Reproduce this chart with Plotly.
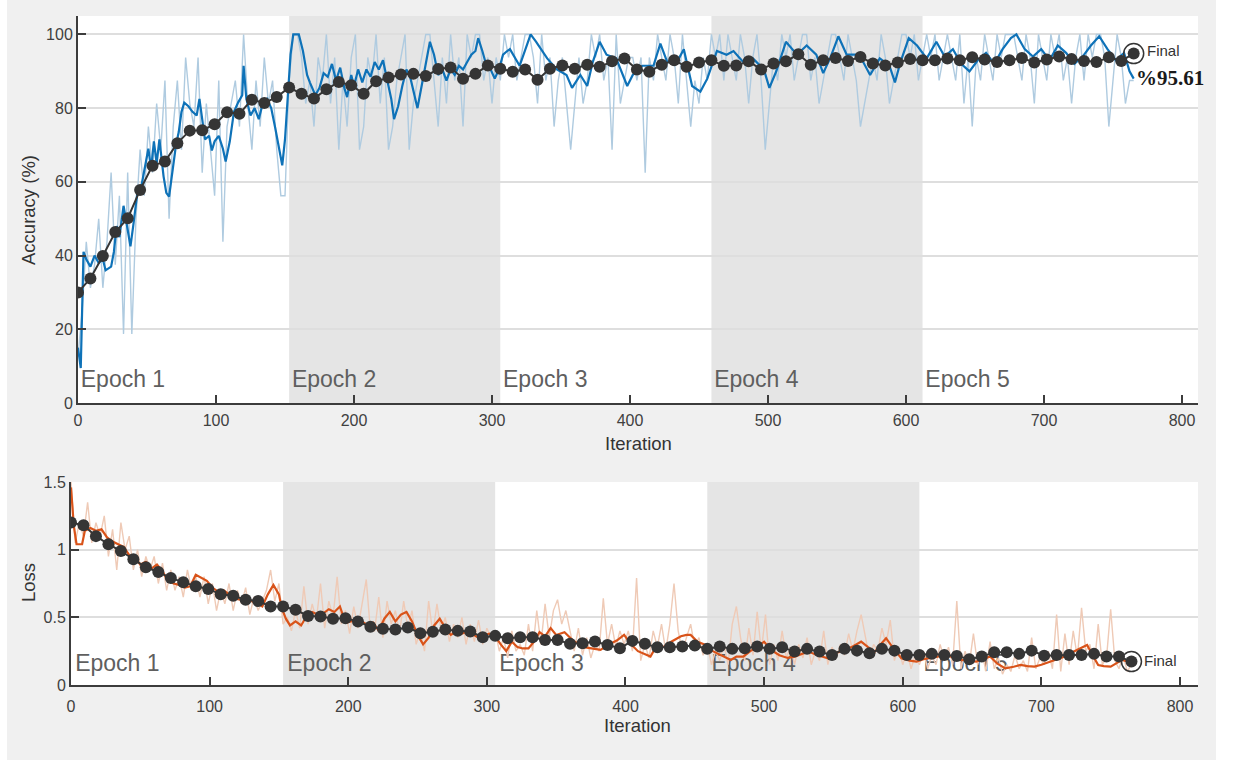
import plotly.graph_objects as go

W, H = 1237, 760

# ---------------- data ----------------
epoch_starts = [0, 153, 306, 459, 612]
epoch_labels = ["Epoch 1", "Epoch 2", "Epoch 3", "Epoch 4", "Epoch 5"]
shaded_epochs = [(153, 306), (459, 612)]

raw_step = 3  # raw mini-batch values read every 3 iterations

acc_raw = [
    # epoch 1 (0..153)
    12.5, 25, 43.75, 31.25, 37.5, 50, 31.25, 43.75, 62.5, 37.5,
    56.25, 18.75, 62.5, 18.75, 50, 68.75, 56.25, 75, 62.5, 81.25,
    68.75, 87.5, 50, 75, 87.5, 68.75, 93.75, 81.25, 75, 93.75,
    62.5, 81.25, 68.75, 56.25, 87.5, 43.75, 75, 81.25, 87.5, 75,
    100, 81.25, 68.75, 87.5, 75, 93.75, 81.25, 87.5, 68.75, 56.25,
    56.25, 87.5,
    # epoch 2 (156..303)
    100, 100, 93.75, 81.25, 87.5, 75, 93.75, 87.5, 100, 81.25,
    93.75, 68.75, 87.5, 75, 93.75, 100, 68.75, 75, 93.75, 87.5,
    100, 81.25, 93.75, 68.75, 75, 87.5, 93.75, 100, 68.75, 81.25,
    87.5, 93.75, 100, 100, 87.5, 75, 93.75, 81.25, 100, 87.5,
    93.75, 75, 100, 93.75, 100, 100, 87.5, 93.75, 81.25, 93.75,
    # epoch 3 (306..456)
    87.5, 100, 93.75, 100, 87.5, 93.75, 100, 100, 93.75, 81.25,
    100, 87.5, 93.75, 75, 87.5, 93.75, 81.25, 68.75, 81.25, 93.75,
    81.25, 87.5, 100, 93.75, 100, 87.5, 93.75, 68.75, 100, 81.25,
    87.5, 93.75, 93.75, 87.5, 93.75, 62.5, 93.75, 87.5, 100, 93.75,
    87.5, 100, 93.75, 81.25, 100, 87.5, 75, 87.5, 81.25, 93.75,
    87.5,
    # epoch 4 (459..609)
    100, 93.75, 100, 87.5, 100, 93.75, 87.5, 100, 93.75, 81.25,
    93.75, 100, 87.5, 68.75, 81.25, 93.75, 87.5, 100, 93.75, 100,
    87.5, 93.75, 100, 100, 87.5, 93.75, 81.25, 87.5, 93.75, 100,
    100, 93.75, 87.5, 100, 93.75, 87.5, 75, 81.25, 87.5, 93.75,
    87.5, 100, 93.75, 81.25, 87.5, 93.75, 100, 100, 93.75, 100,
    87.5,
    # epoch 5 (612..765)
    93.75, 100, 93.75, 100, 87.5, 93.75, 100, 93.75, 87.5, 100,
    81.25, 93.75, 75, 93.75, 87.5, 100, 93.75, 87.5, 100, 93.75,
    100, 100, 100, 93.75, 87.5, 100, 93.75, 81.25, 100, 93.75,
    87.5, 100, 93.75, 100, 87.5, 93.75, 81.25, 93.75, 100, 87.5,
    100, 93.75, 100, 100, 93.75, 75, 87.5, 100, 93.75, 81.25,
    87.5, 87.5,
]

acc_smooth_iter = [
    0, 2, 4, 6, 9, 12, 15, 18, 20, 24,
    26, 28, 30, 33, 36, 38, 40, 43, 46, 49,
    51, 53, 55, 57, 59, 62, 64, 66, 68, 71,
    73, 75, 77, 80, 83, 86, 88, 90, 92, 95,
    97, 99, 102, 105, 107, 110, 113, 116, 119, 120,
    122, 125, 128, 131, 134, 137, 140, 143, 146, 148,
    150, 152, 154, 156, 160, 163, 166, 168, 170, 172,
    175, 178, 181, 184, 187, 190, 193, 195, 198, 200,
    203, 206, 209, 212, 215, 218, 221, 224, 227, 229,
    232, 235, 238, 241, 244, 246, 249, 252, 255, 258,
    261, 264, 267, 270, 273, 276, 279, 282, 285, 288,
    290, 293, 296, 299, 302, 305, 308, 311, 313, 320,
    328, 332, 340, 347, 354, 358, 364, 369, 373, 378,
    383, 390, 398, 402, 409, 417, 422, 427, 434, 439,
    445, 451, 456, 463, 470, 475, 482, 489, 497, 501,
    506, 513, 521, 528, 535, 540, 545, 551, 557, 564,
    569, 574, 581, 588, 592, 596, 602, 608, 615, 622,
    628, 634, 640, 646, 652, 658, 664, 670, 676, 680,
    686, 692, 698, 704, 710, 716, 722, 728, 734, 740,
    746, 752, 758, 762, 765,
]
acc_smooth = [
    15, 9.5, 41, 39, 37, 40, 38, 39, 36, 37,
    41, 48, 45, 53.5, 47, 42.5, 48, 57, 59, 65,
    69, 63.5, 71, 65, 71.5, 61.5, 57, 56, 61.5, 70,
    73.5, 79, 81.5, 80.5, 79, 78, 82.5, 77, 71.5, 72.5,
    68.5, 71, 72.5, 69, 65.5, 71, 79, 81.5, 83.5, 91.5,
    82.5, 78, 80, 77, 81.5, 82.5, 80, 74.5, 68, 64.5,
    71.5, 83.5, 94.5, 100, 100, 95.5, 89, 87, 85, 83.5,
    85.5, 89.5, 88.5, 92, 87.5, 91, 85.5, 83, 89, 86,
    90.5, 87, 90.5, 88.5, 92.5, 90.5, 93, 88, 82.5, 77,
    80.5, 86, 90.5, 88, 83.5, 80, 86, 92.5, 98, 94.5,
    89, 90.5, 87.5, 90.5, 89, 91.5, 90.5, 92.5, 94.5, 95.5,
    99, 95.5, 91.5, 90.5, 88, 90.5, 94.5, 95.5, 96, 91.5,
    100, 98, 93.5, 90.5, 89, 85.5, 89, 86, 92.5, 98,
    94.5, 93.5, 86, 89, 91.5, 91.5, 97.5, 92.5, 92.5, 96,
    86, 84.5, 88, 95.5, 94.5, 95.5, 92.5, 93.5, 90.5, 85.5,
    90, 98, 94.5, 97, 94.5, 89.5, 93.5, 99.5, 94.5, 94.5,
    92.5, 89, 93.5, 91.5, 87, 92.5, 99, 97, 93.5, 98,
    94, 96, 92, 90, 93, 95, 92, 96, 99, 100,
    96, 94, 96, 93, 97, 95, 92, 94, 97, 99.5,
    96, 93, 95, 90, 88,
]

val_step = 9  # validation every 9 iterations, plus final at 765
final_iter = 765
acc_val = [
    30, 33.8, 39.9, 46.4, 50.1, 57.8, 64.4, 65.5, 70.5, 73.9,
    74, 75.6, 78.9, 78.5, 82.3, 81.4, 83.0, 85.6, 83.9, 82.6,
    85.1, 87.1, 86.2, 83.9, 87.3, 88.3, 89.1, 89.3, 88.7, 90.6,
    91.0, 88.0, 89.3, 91.6, 90.7, 89.9, 90.5, 87.7, 90.7, 91.6,
    90.7, 91.8, 91.2, 92.7, 93.5, 90.5, 89.9, 91.8, 93.0, 91.2,
    92.4, 93.0, 91.5, 91.6, 92.7, 90.5, 92.1, 92.7, 94.6, 91.8,
    93.0, 93.6, 92.8, 93.9, 92.1, 91.6, 92.4, 93.3, 93.0, 93.0,
    93.5, 93.0, 93.8, 93.2, 92.5, 93.0, 93.6, 92.4, 93.2, 94.0,
    93.3, 92.8, 92.5, 93.8, 92.8,
]
acc_final = 94.8
acc_final_label = "%95.61"

loss_raw = [
    # epoch 1
    1.50, 1.05, 1.20, 1.10, 1.35, 1.05, 1.20, 1.10, 1.25, 0.95,
    1.15, 0.85, 1.20, 1.00, 1.10, 0.85, 1.00, 0.80, 0.95, 0.85,
    0.95, 0.75, 0.90, 0.70, 0.85, 0.70, 0.80, 0.65, 0.85, 0.70,
    0.80, 0.65, 0.80, 0.60, 0.75, 0.55, 0.70, 0.60, 0.75, 0.55,
    0.70, 0.60, 0.72, 0.52, 0.65, 0.55, 0.62, 0.70, 0.85, 0.62,
    0.75, 0.45,
    # epoch 2
    0.50, 0.40, 0.55, 0.42, 0.73, 0.45, 0.60, 0.48, 0.75, 0.42,
    0.62, 0.50, 0.80, 0.45, 0.55, 0.38, 0.58, 0.42, 0.60, 0.78,
    0.40, 0.40, 0.65, 0.35, 0.62, 0.45, 0.55, 0.38, 0.62, 0.42,
    0.55, 0.30, 0.40, 0.25, 0.62, 0.38, 0.60, 0.40, 0.50, 0.32,
    0.45, 0.35, 0.50, 0.30, 0.45, 0.32, 0.48, 0.30, 0.42, 0.35,
    # epoch 3
    0.40, 0.25, 0.35, 0.20, 0.40, 0.25, 0.30, 0.22, 0.45, 0.25,
    0.55, 0.30, 0.60, 0.35, 0.55, 0.63, 0.45, 0.55, 0.40, 0.25,
    0.42, 0.22, 0.35, 0.20, 0.30, 0.25, 0.64, 0.30, 0.45, 0.28,
    0.40, 0.30, 0.40, 0.25, 0.79, 0.18, 0.30, 0.20, 0.40, 0.28,
    0.45, 0.25, 0.45, 0.75, 0.40, 0.25, 0.35, 0.45, 0.28, 0.35,
    0.22,
    # epoch 4
    0.30, 0.15, 0.25, 0.18, 0.30, 0.15, 0.45, 0.58, 0.35, 0.18,
    0.42, 0.22, 0.54, 0.25, 0.52, 0.15, 0.30, 0.18, 0.40, 0.20,
    0.28, 0.15, 0.30, 0.20, 0.35, 0.15, 0.25, 0.18, 0.40, 0.15,
    0.28, 0.20, 0.30, 0.22, 0.38, 0.25, 0.40, 0.52, 0.35, 0.20,
    0.30, 0.25, 0.42, 0.30, 0.48, 0.18, 0.28, 0.15, 0.25, 0.12,
    0.22,
    # epoch 5
    0.15, 0.25, 0.12, 0.22, 0.15, 0.30, 0.18, 0.28, 0.15, 0.62,
    0.12, 0.25, 0.15, 0.38, 0.15, 0.25, 0.10, 0.32, 0.12, 0.20,
    0.08, 0.15, 0.10, 0.22, 0.12, 0.18, 0.10, 0.35, 0.12, 0.20,
    0.15, 0.25, 0.12, 0.52, 0.10, 0.38, 0.15, 0.40, 0.20, 0.57,
    0.25, 0.30, 0.12, 0.45, 0.15, 0.20, 0.56, 0.18, 0.12, 0.22,
    0.10, 0.15,
]

loss_smooth_iter = [
    0, 2, 4, 8, 10, 14, 18, 22, 26, 30,
    34, 38, 42, 46, 50, 54, 58, 62, 66, 70,
    74, 78, 82, 86, 90, 94, 98, 102, 106, 110,
    114, 118, 122, 126, 130, 134, 138, 142, 146, 150,
    152, 155, 158, 162, 166, 170, 174, 178, 182, 186,
    190, 194, 198, 202, 206, 210, 214, 218, 222, 226,
    230, 234, 238, 242, 246, 250, 254, 258, 262, 266,
    270, 274, 278, 282, 286, 290, 294, 298, 302, 306,
    310, 314, 318, 322, 326, 330, 334, 338, 342, 346,
    350, 356, 362, 370, 376, 382, 388, 394, 399, 404,
    409, 414, 418, 423, 428, 433, 440, 444, 447, 452,
    457, 463, 466, 473, 476, 480, 485, 490, 495, 500,
    505, 511, 517, 522, 527, 532, 538, 546, 550, 556,
    563, 570, 575, 580, 584, 588, 594, 599, 605, 610,
    615, 620, 625, 631, 637, 642, 648, 653, 658, 663,
    668, 674, 680, 685, 690, 695, 700, 706, 711, 717,
    722, 728, 733, 737, 741, 745, 750, 754, 758, 763,
    765,
]
loss_smooth = [
    1.46, 1.18, 1.04, 1.04, 1.14, 1.16, 1.14, 1.15, 1.09, 1.06,
    1.04, 1.02, 0.96, 0.94, 0.89, 0.91, 0.86, 0.89, 0.84, 0.77,
    0.75, 0.74, 0.72, 0.73, 0.815, 0.79, 0.77, 0.72, 0.69, 0.70,
    0.67, 0.64, 0.63, 0.64, 0.62, 0.605, 0.58, 0.67, 0.74, 0.67,
    0.57, 0.49, 0.44, 0.47, 0.44, 0.51, 0.54, 0.52, 0.53, 0.56,
    0.54, 0.58, 0.46, 0.47, 0.49, 0.47, 0.44, 0.46, 0.40, 0.49,
    0.54, 0.47, 0.52, 0.54, 0.47, 0.37, 0.30, 0.35, 0.44, 0.49,
    0.42, 0.37, 0.395, 0.38, 0.395, 0.37, 0.35, 0.37, 0.38, 0.36,
    0.30, 0.25, 0.32, 0.28, 0.27, 0.27, 0.32, 0.39, 0.36, 0.42,
    0.37, 0.39, 0.33, 0.28, 0.27, 0.26, 0.30, 0.33, 0.37, 0.30,
    0.25, 0.23, 0.21, 0.30, 0.28, 0.32, 0.36, 0.37, 0.37, 0.32,
    0.30, 0.25, 0.235, 0.20, 0.185, 0.21, 0.21, 0.25, 0.28, 0.32,
    0.26, 0.22, 0.20, 0.21, 0.23, 0.247, 0.222, 0.198, 0.235, 0.247,
    0.28, 0.32, 0.28, 0.247, 0.30, 0.346, 0.26, 0.198, 0.18, 0.173,
    0.19, 0.198, 0.21, 0.222, 0.20, 0.185, 0.18, 0.173, 0.19, 0.21,
    0.16, 0.123, 0.135, 0.148, 0.14, 0.136, 0.15, 0.173, 0.19, 0.21,
    0.24, 0.272, 0.296, 0.22, 0.148, 0.14, 0.136, 0.16, 0.185, 0.173,
    0.17,
]

loss_val = [
    1.20, 1.18, 1.10, 1.04, 0.99, 0.93, 0.87, 0.835, 0.79, 0.76,
    0.73, 0.71, 0.67, 0.66, 0.63, 0.62, 0.58, 0.58, 0.556, 0.51,
    0.507, 0.49, 0.494, 0.469, 0.43, 0.415, 0.41, 0.425, 0.383, 0.393,
    0.41, 0.40, 0.395, 0.353, 0.363, 0.346, 0.353, 0.353, 0.333, 0.333,
    0.304, 0.309, 0.321, 0.296, 0.272, 0.326, 0.304, 0.279, 0.279, 0.284,
    0.291, 0.267, 0.284, 0.267, 0.272, 0.284, 0.267, 0.279, 0.247, 0.267,
    0.247, 0.222, 0.267, 0.254, 0.235, 0.267, 0.254, 0.222, 0.222, 0.230,
    0.222, 0.215, 0.190, 0.210, 0.242, 0.242, 0.230, 0.254, 0.217, 0.222,
    0.222, 0.222, 0.230, 0.210, 0.210,
]
loss_final = 0.173

acc_yticks = [0, 20, 40, 60, 80, 100]
loss_yticks = [0, 0.5, 1, 1.5]
loss_yticklabels = ["0", "0.5", "1", "1.5"]
xticks = [0, 100, 200, 300, 400, 500, 600, 700, 800]

# ---------------- derived ----------------
raw_iter = [i * raw_step for i in range(len(acc_raw))]
raw_iter_l = [i * raw_step for i in range(len(loss_raw))]
val_iter = [i * val_step for i in range(len(acc_val))] + [final_iter]
val_iter_l = [i * val_step for i in range(len(loss_val))] + [final_iter]

# ---------------- styling ----------------
FONT = "Liberation Sans, Arial, sans-serif"
TICKC = "#404040"
AXC = "#3c3c3c"
GRIDC = "#dedede"
SHADE = "#e5e5e5"
EPC = "#5f5f5f"
DOT = "#353535"


def px_x(p):
    return p / W


def px_y(p):
    return 1 - p / H


fig = go.Figure()

# epoch labels (drawn first so curves pass over them)
fig.add_trace(go.Scatter(
    x=[s + 2 for s in epoch_starts], y=[6.0] * 5, text=epoch_labels,
    mode="text", textposition="middle right",
    textfont=dict(family=FONT, size=23, color=EPC),
    xaxis="x", yaxis="y", hoverinfo="skip", showlegend=False))
fig.add_trace(go.Scatter(
    x=[s + 3 for s in epoch_starts], y=[0.148] * 5, text=epoch_labels,
    mode="text", textposition="middle right",
    textfont=dict(family=FONT, size=23, color=EPC),
    xaxis="x2", yaxis="y2", hoverinfo="skip", showlegend=False))

# accuracy
fig.add_trace(go.Scatter(x=raw_iter, y=acc_raw, mode="lines",
                         line=dict(color="#afcbe0", width=1.4),
                         xaxis="x", yaxis="y", showlegend=False))
fig.add_trace(go.Scatter(x=acc_smooth_iter, y=acc_smooth, mode="lines",
                         line=dict(color="#0e72b8", width=2.2),
                         xaxis="x", yaxis="y", showlegend=False))
fig.add_trace(go.Scatter(x=val_iter, y=acc_val + [acc_final], mode="lines+markers",
                         line=dict(color=DOT, width=2),
                         marker=dict(color=DOT, size=12),
                         xaxis="x", yaxis="y", showlegend=False))
fig.add_trace(go.Scatter(x=[final_iter], y=[acc_final], mode="markers",
                         marker=dict(symbol="circle-open", color=DOT, size=20,
                                     line=dict(width=1.5, color=DOT)),
                         xaxis="x", yaxis="y", showlegend=False))

# loss
fig.add_trace(go.Scatter(x=raw_iter_l, y=loss_raw, mode="lines",
                         line=dict(color="#efcab6", width=1.4),
                         xaxis="x2", yaxis="y2", showlegend=False))
fig.add_trace(go.Scatter(x=loss_smooth_iter, y=loss_smooth, mode="lines",
                         line=dict(color="#d95319", width=2.2),
                         xaxis="x2", yaxis="y2", showlegend=False))
fig.add_trace(go.Scatter(x=val_iter_l, y=loss_val + [loss_final], mode="lines+markers",
                         line=dict(color=DOT, width=2),
                         marker=dict(color=DOT, size=12),
                         xaxis="x2", yaxis="y2", showlegend=False))
fig.add_trace(go.Scatter(x=[final_iter], y=[loss_final], mode="markers",
                         marker=dict(symbol="circle-open", color=DOT, size=20,
                                     line=dict(width=1.5, color=DOT)),
                         xaxis="x2", yaxis="y2", showlegend=False))

shapes = []
for a, b in shaded_epochs:
    for xr, yr in (("x", "y"), ("x2", "y2")):
        shapes.append(dict(type="rect", xref=xr, yref=f"{yr} domain", x0=a, x1=b,
                           y0=0, y1=1, fillcolor=SHADE, line=dict(width=0), layer="below"))
# white margins left/right of the grey panel
shapes.append(dict(type="rect", xref="paper", yref="paper", x0=0, x1=px_x(7), y0=0, y1=1,
                   fillcolor="white", line=dict(width=0), layer="above"))
shapes.append(dict(type="rect", xref="paper", yref="paper", x0=px_x(1216), x1=1, y0=0, y1=1,
                   fillcolor="white", line=dict(width=0), layer="above"))

tfont = dict(family=FONT, size=16, color=TICKC)
common_x = dict(showline=True, linecolor=AXC, linewidth=2, ticks="inside", ticklen=8,
                tickwidth=2, tickcolor=AXC, tickfont=tfont, showgrid=False, zeroline=False,
                tickvals=xticks, mirror=False, automargin=False)
common_y = dict(showline=True, linecolor=AXC, linewidth=2, ticks="inside", ticklen=8,
                tickwidth=2, tickcolor=AXC, tickfont=tfont, showgrid=True, gridcolor=GRIDC,
                gridwidth=1.5, zeroline=False, mirror=False, automargin=False)

TITLEF = dict(family=FONT, size=18.5, color="#333333")


def paper_text(text, x, y, angle=0):
    return dict(text=text, x=px_x(x), y=px_y(y), xref="paper", yref="paper",
                xanchor="center", yanchor="middle", textangle=angle,
                showarrow=False, font=TITLEF)


annotations = [
    paper_text("Accuracy (%)", 28, 210, -90),
    paper_text("Loss", 28, 582, -90),
    paper_text("Iteration", 638, 443),
    paper_text("Iteration", 637, 725),
    dict(text="Final", x=final_iter, y=acc_final, xref="x", yref="y", xanchor="left",
         yanchor="middle", xshift=11, yshift=3, showarrow=False,
         font=dict(family=FONT, size=15, color="#333333")),
    dict(text="<b>" + acc_final_label + "</b>", x=final_iter, y=acc_final, xref="x", yref="y",
         xanchor="left", yanchor="middle", xshift=0, yshift=-24, showarrow=False,
         font=dict(family="Liberation Serif, Times New Roman, serif", size=21, color="#1a1a1a")),
    dict(text="Final", x=final_iter, y=loss_final, xref="x2", yref="y2", xanchor="left",
         yanchor="middle", xshift=11, yshift=1, showarrow=False,
         font=dict(family=FONT, size=15, color="#333333")),
]

fig.update_layout(
    template="none",
    width=W, height=H, margin=dict(l=0, r=0, t=0, b=0, pad=0, autoexpand=False),
    paper_bgcolor="#f0f0f0", plot_bgcolor="white",
    showlegend=False, hovermode=False,
    xaxis=dict(domain=[px_x(78), px_x(1198)], range=[0, 811.6], anchor="y",
               ticklabelstandoff=2, **common_x),
    yaxis=dict(domain=[px_y(403), px_y(16)], range=[0, 105], anchor="x",
               tickvals=acc_yticks, **common_y),
    xaxis2=dict(domain=[px_x(71), px_x(1198)], range=[0, 813], anchor="y2",
                ticklabelstandoff=6, **common_x),
    yaxis2=dict(domain=[px_y(685), px_y(482)], range=[0, 1.5], anchor="x2",
                tickvals=loss_yticks, ticktext=loss_yticklabels, **common_y),
    shapes=shapes, annotations=annotations,
)

fig.write_html("out.html", config={"displayModeBar": False},
               post_script="document.body.style.margin='0';document.body.style.padding='0';")
